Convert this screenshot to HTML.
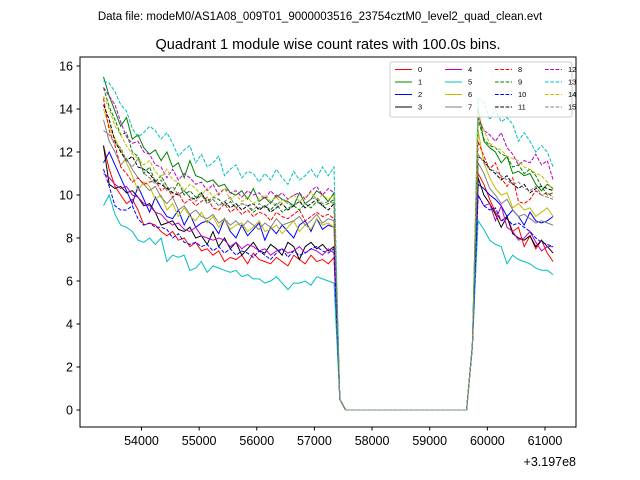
<!DOCTYPE html>
<html><head><meta charset="utf-8"><style>
body{margin:0;background:#fff;}
svg{display:block;font-family:"Liberation Sans","DejaVu Sans",sans-serif;}
</style></head><body>
<svg id="chart" width="640" height="480">
<rect x="0" y="0" width="640" height="480" fill="#fff"/>
<text x="320" y="20" font-size="11.5" text-anchor="middle">Data file: modeM0/AS1A08_009T01_9000003516_23754cztM0_level2_quad_clean.evt</text>
<text x="328" y="49" font-size="14.5" text-anchor="middle">Quadrant 1 module wise count rates with 100.0s bins.</text>
<g id="ticks"></g>
<g id="series" clip-path="url(#clip)"></g>
<defs><clipPath id="clip"><rect x="80" y="57" width="496" height="370"/></clipPath></defs>
<rect x="80" y="57" width="496" height="370" fill="none" stroke="#000" stroke-width="1"/>
<text x="576" y="466" font-size="12.5" text-anchor="end">+3.197e8</text>
<g id="legend"></g>
</svg>
<script>
const startTime = 53340;
const stepTime = 100;
const xTicks = [54000,55000,56000,57000,58000,59000,60000,61000];
const yTicks = [0,2,4,6,8,10,12,14,16];
const names = ['0','1','2','3','4','5','6','7','8','9','10','11','12','13','14','15'];
const colors = ['#ff0000','#008000','#0000ff','#000000','#bf00bf','#00bfbf','#bfbf00','#808080','#ff0000','#008000','#0000ff','#000000','#bf00bf','#00bfbf','#bfbf00','#808080'];
const dropValue = 0.5;
const gapValues = [0,0,0,0,0,0,0,0,0,0,0,0,0,0,0,0,0,0,0,0,0,0];
const riseValue = 3.0;
const pre0 = [12.3,11.2,10.4,10.0,9.6,9.8,9.3,8.6,8.7,8.6,8.3,8.1,8.3,7.9,8.0,7.6,7.8,7.4,7.5,7.2,7.4,6.9,7.1,7.0,7.2,6.8,7.3,7.0,6.9,6.8,7.1,6.9,6.7,7.2,7.0,6.8,7.2,6.9,7.0,6.8,7.1];
const pre1 = [15.5,14.6,13.9,13.2,13.6,12.6,12.8,12.2,11.9,12.1,11.6,12.0,11.3,11.5,10.8,11.6,10.9,10.8,10.6,10.7,10.4,10.5,10.1,10.0,10.2,9.8,10.3,9.7,9.9,9.6,10.0,9.8,9.7,9.5,10.1,9.6,9.8,10.2,10.0,9.7,10.1];
const pre2 = [11.5,12.0,11.4,10.8,10.2,9.6,10.4,9.8,9.2,9.9,9.4,9.0,8.9,9.3,8.6,9.1,8.5,8.7,8.8,8.6,8.2,8.9,8.3,8.0,8.6,8.1,8.4,8.7,7.9,8.5,8.2,8.6,8.3,8.0,8.6,8.8,8.3,8.9,8.4,8.6,8.5];
const pre3 = [12.3,10.5,10.3,10.4,10.1,10.2,9.9,9.5,9.6,9.2,8.6,8.7,8.8,8.4,8.3,8.5,8.0,8.1,7.7,8.3,7.6,8.0,7.5,7.8,7.2,7.5,7.8,7.4,7.3,7.7,7.5,7.2,7.8,7.6,7.0,7.6,7.8,7.5,7.7,7.4,7.6];
const pre4 = [11.0,10.8,10.5,10.3,10.4,10.0,9.9,9.6,9.5,9.2,9.1,8.8,8.6,8.7,8.4,8.3,8.5,8.1,8.0,7.9,8.0,7.9,7.6,7.8,7.5,7.7,7.6,7.4,7.5,7.2,7.4,7.5,7.3,7.4,7.6,7.3,7.5,7.4,7.2,7.5,7.3];
const pre5 = [9.5,10.0,9.1,8.6,8.5,8.3,7.9,7.8,8.0,7.7,8.0,6.9,7.2,7.1,7.2,6.5,6.6,6.9,6.4,6.7,6.6,6.5,6.4,6.5,6.2,6.3,6.1,6.1,5.9,6.0,6.2,5.9,5.6,5.9,5.9,6.0,5.8,6.2,6.1,6.0,5.9];
const pre6 = [14.0,13.2,12.6,12.1,11.5,10.9,10.2,10.6,10.4,9.8,10.0,9.3,9.6,9.0,9.4,9.0,8.8,9.2,8.7,9.0,8.5,8.9,8.4,8.6,8.7,8.3,8.5,8.8,8.3,8.4,8.6,8.2,8.5,8.8,8.3,8.6,8.4,8.9,8.6,8.7,8.5];
const pre7 = [13.5,12.5,12.0,11.4,11.7,11.2,10.8,10.5,10.2,10.4,9.9,9.6,9.9,9.3,9.5,9.1,9.3,9.0,8.9,9.1,8.7,8.9,8.6,8.8,8.5,8.8,8.6,8.4,8.7,8.5,8.9,8.6,8.7,8.8,9.0,8.6,8.8,9.1,8.7,8.9,8.8];
const pre8 = [14.5,13.0,12.3,11.3,11.0,10.6,10.8,10.5,10.6,10.7,10.2,10.4,9.9,10.1,9.6,9.8,9.5,9.7,9.9,9.4,9.3,9.6,9.2,9.4,9.1,9.3,9.0,9.2,9.1,8.8,9.2,9.0,8.9,9.1,9.3,8.8,9.0,9.2,9.0,9.1,8.9];
const pre9 = [15.0,14.1,13.5,12.8,12.9,12.0,11.8,11.0,11.3,10.6,10.9,10.4,10.1,10.6,10.0,10.2,9.9,10.1,9.7,9.9,9.8,9.5,9.7,9.4,9.6,9.5,9.2,9.4,9.5,9.3,9.6,9.2,9.4,9.5,9.3,9.6,9.4,9.7,9.5,9.6,9.8];
const pre10 = [11.2,10.4,9.5,9.3,9.3,9.5,8.9,8.6,8.7,8.5,8.5,8.4,8.0,8.2,7.8,7.7,7.8,7.6,7.7,7.4,7.6,7.3,7.5,7.2,7.4,7.3,7.1,7.4,7.2,7.0,7.3,7.5,7.1,7.4,7.2,7.3,7.5,7.6,7.4,7.3,7.5];
const pre11 = [14.2,13.5,12.5,12.0,11.6,11.8,11.3,11.2,11.0,10.6,10.5,10.3,10.1,10.0,10.2,9.9,9.8,10.1,9.6,9.8,9.5,9.7,9.4,9.6,9.3,9.5,9.6,9.3,9.5,9.2,9.4,9.6,9.3,9.5,9.7,9.4,9.6,9.8,9.5,9.3,9.6];
const pre12 = [15.0,14.6,14.2,13.4,12.7,12.4,12.5,12.0,11.9,11.4,11.3,10.8,11.2,10.7,11.0,10.8,10.5,10.6,10.2,10.5,10.0,10.3,10.1,10.2,9.9,10.2,10.0,10.1,9.8,10.2,9.9,10.1,9.8,10.0,10.1,9.8,10.2,10.4,10.0,10.3,10.1];
const pre13 = [15.3,15.2,14.8,14.2,13.9,13.1,12.7,12.9,13.2,13.0,12.6,12.9,12.4,11.8,12.1,12.3,11.5,11.9,11.3,11.5,11.8,10.9,11.2,11.4,10.8,11.1,11.0,10.6,11.0,10.7,11.2,10.8,10.5,11.1,10.7,10.9,11.2,10.8,11.3,10.9,11.3];
const pre14 = [14.6,14.0,13.2,12.8,12.3,11.9,11.7,11.4,11.6,11.1,10.8,11.2,10.7,10.6,10.2,10.5,10.3,10.0,10.3,9.9,10.1,10.3,9.8,10.0,9.7,9.9,9.6,9.8,10.0,9.7,9.9,9.6,9.8,10.0,9.7,9.9,10.1,9.8,10.0,9.8,10.0];
const pre15 = [13.0,12.8,12.4,12.2,11.6,11.3,11.7,11.0,10.8,10.5,10.7,10.2,10.4,10.0,10.2,9.9,9.7,10.0,9.6,9.8,9.5,9.7,9.9,9.4,9.6,9.5,9.3,9.6,9.4,9.7,9.5,9.8,9.6,9.5,9.7,9.6,9.8,9.9,9.6,9.7,9.6];
const post0 = [11.0,10.5,9.8,9.2,8.8,9.0,8.3,8.5,7.6,8.1,7.5,7.9,7.3,6.9];
const post1 = [14.0,12.5,12.2,12.0,11.5,11.8,11.0,11.1,10.9,11.0,10.5,10.2,10.5,10.3];
const post2 = [10.5,10.3,10.0,9.8,9.5,9.0,9.3,9.0,8.6,9.2,8.8,8.7,8.8,9.0];
const post3 = [10.8,10.0,9.6,9.1,8.5,9.0,8.2,8.0,7.9,8.1,7.6,7.9,7.6,7.3];
const post4 = [10.0,9.5,9.6,8.8,9.5,8.5,8.3,7.9,8.0,8.3,7.8,7.4,7.6,7.6];
const post5 = [8.8,8.4,7.9,7.7,7.6,6.8,7.2,7.0,6.9,6.8,6.6,6.5,6.5,6.3];
const post6 = [13.0,11.5,10.8,10.3,10.0,10.1,9.4,9.6,9.3,9.4,9.0,9.2,9.4,9.0];
const post7 = [11.5,11.0,10.3,10.0,9.6,9.8,9.3,9.0,9.1,8.9,8.7,8.8,8.7,8.6];
const post8 = [12.5,11.8,11.2,11.5,10.8,10.4,10.8,9.7,9.6,9.8,10.2,10.0,10.1,9.9];
const post9 = [13.5,12.6,12.3,12.2,11.9,11.8,11.3,11.4,11.0,11.2,10.9,10.4,10.0,10.1];
const post10 = [10.0,9.5,9.3,9.4,8.8,8.9,8.6,8.7,8.5,8.3,8.0,7.8,7.7,7.6];
const post11 = [11.8,11.6,11.2,11.0,10.7,10.9,10.5,10.3,10.5,10.1,10.3,10.4,10.3,10.2];
const post12 = [13.6,13.0,12.8,12.5,12.9,12.2,11.9,11.4,11.6,11.5,11.9,11.4,11.6,10.7];
const post13 = [14.5,14.3,13.5,14.0,13.4,13.6,13.3,12.5,12.9,12.5,12.0,12.3,12.0,11.3];
const post14 = [13.8,13.0,12.4,12.2,12.1,11.8,11.7,11.6,11.3,11.2,11.0,10.9,10.6,10.2];
const post15 = [11.9,11.5,11.2,11.1,10.9,10.7,10.5,10.6,10.3,10.2,10.4,10.0,9.9,9.8];
const preSeries = [pre0,pre1,pre2,pre3,pre4,pre5,pre6,pre7,pre8,pre9,pre10,pre11,pre12,pre13,pre14,pre15];
const postSeries = [post0,post1,post2,post3,post4,post5,post6,post7,post8,post9,post10,post11,post12,post13,post14,post15];

const NS = 'http://www.w3.org/2000/svg';
const X0 = 54000, PX0 = 141.5, PXS = (545 - 141.5) / 7000;
const Y0 = 410, PYS = 21.5;
function xScale(t){ return PX0 + (t - X0) * PXS; }
function yScale(v){ return Y0 - v * PYS; }
function mk(tag, attrs){ const e = document.createElementNS(NS, tag); for (const k in attrs) e.setAttribute(k, attrs[k]); return e; }

const ticks = document.getElementById('ticks');
xTicks.forEach(t => {
  const x = xScale(t);
  const l = mk('line', {x1:x, x2:x, y1:427, y2:430.5, stroke:'#000'});
  
  
  ticks.appendChild(l);
  const tx = mk('text', {x:x, y:445, 'font-size':12.5, 'text-anchor':'middle'});
  
  
  tx.textContent = t;
  ticks.appendChild(tx);
});
yTicks.forEach(v => {
  const y = yScale(v);
  const l = mk('line', {x1:76.5, x2:80, y1:y, y2:y, stroke:'#000'});
  
  
  ticks.appendChild(l);
  const tx = mk('text', {x:73, y:y + 4.5, 'font-size':12.5, 'text-anchor':'end'});
  
  
  tx.textContent = v;
  ticks.appendChild(tx);
});

const sg = document.getElementById('series');
preSeries.forEach((pre, i) => {
  const vals = pre.concat([dropValue], gapValues, [riseValue], postSeries[i]);
  const pts = vals.map((v, j) => xScale(startTime + j * stepTime).toFixed(1) + ',' + yScale(v).toFixed(1)).join(' ');
  const attrs = {points:pts, fill:'none', stroke:colors[i], 'stroke-width':1};
  if (i >= 8) attrs['stroke-dasharray'] = '3.7,1.6';
  const p = mk('polyline', attrs);
  
  
  sg.appendChild(p);
});

const lg = document.getElementById('legend');
const box = mk('rect', {x:390, y:62, width:182, height:55, fill:'#fff', 'fill-opacity':0.8, stroke:'#ccc', rx:2});


lg.appendChild(box);
names.forEach((n, i) => {
  const col = Math.floor(i / 4), row = i % 4;
  const x = 395 + col * 50, y = 69.5 + row * 12.5;
  const g = mk('g', {});
  
  
  const la = {x1:x, x2:x + 17, y1:y, y2:y, stroke:colors[i], 'stroke-width':1};
  if (i >= 8) la['stroke-dasharray'] = '3.7,1.6';
  g.appendChild(mk('line', la));
  const t = mk('text', {x:x + 23, y:y + 2.5, 'font-size':7.5});
  t.textContent = n;
  g.appendChild(t);
  lg.appendChild(g);
});
</script>
</body></html>
